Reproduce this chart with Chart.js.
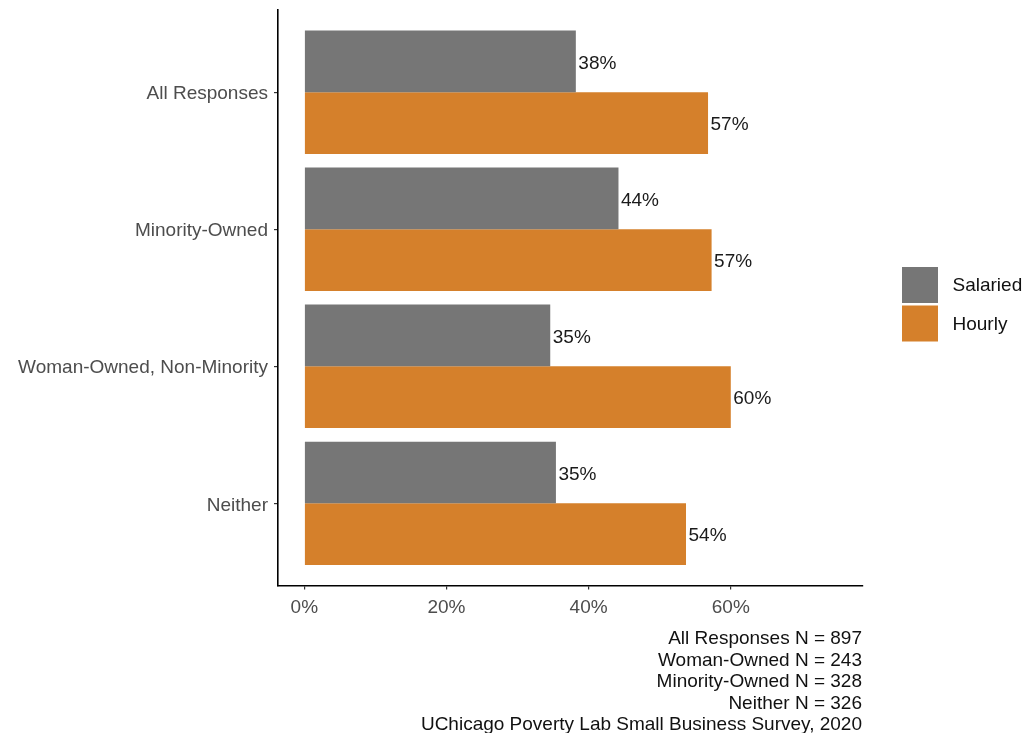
<!DOCTYPE html>
<html>
<head>
<meta charset="utf-8">
<title>Salaried vs Hourly by Business Ownership</title>
<script src="https://cdn.jsdelivr.net/npm/chart.js@4.4.1/dist/chart.umd.min.js"></script>
<style>
  html, body { margin: 0; padding: 0; background: #ffffff; }
  #wrap { width: 1026px; height: 733px; position: relative; }
</style>
</head>
<body>
<div id="wrap"><canvas id="chart" width="1026" height="733"></canvas></div>
<script>
// Ownership groups, top to bottom
const categories = ['All Responses', 'Minority-Owned', 'Woman-Owned, Non-Minority', 'Neither'];

// Share of businesses (%) by pay type
const seriesNames = ['Salaried', 'Hourly'];
const salaried = [38.2, 44.2, 34.6, 35.4];
const hourly = [56.8, 57.3, 60.0, 53.7];

// Percent axis ticks
const xTicks = [0, 20, 40, 60];

// Sample sizes and source note
const captionLines = [
  'All Responses N = 897',
  'Woman-Owned N = 243',
  'Minority-Owned N = 328',
  'Neither N = 326',
  'UChicago Poverty Lab Small Business Survey, 2020'
];

const FONT = '"Liberation Sans", Arial, Helvetica, sans-serif';
const COLORS = ['#767676', '#d5802b'];

function toPoints(values) {
  return values.map((v, i) => ({ x: v, y: i }));
}

// Percent labels just past the end of each bar
const valueLabels = {
  id: 'valueLabels',
  afterDatasetsDraw(chart) {
    const ctx = chart.ctx;
    ctx.save();
    ctx.font = '19px ' + FONT;
    ctx.fillStyle = '#1a1a1a';
    ctx.textAlign = 'left';
    ctx.textBaseline = 'middle';
    chart.data.datasets.forEach((ds, di) => {
      const meta = chart.getDatasetMeta(di);
      meta.data.forEach((bar, i) => {
        const v = ds.data[i].x;
        ctx.fillText(Math.round(v) + '%', bar.x + 2.5, bar.y + 2);
      });
    });
    ctx.restore();
  }
};

// Key on the right and caption under the plot
const sideKeyAndCaption = {
  id: 'sideKeyAndCaption',
  afterDraw(chart) {
    const ctx = chart.ctx;
    const area = chart.chartArea;
    ctx.save();
    // key
    const keyX = area.right + 39;
    const keyTop = 267;
    const keySize = 36;
    const keyStep = 38.5;
    ctx.font = '19px ' + FONT;
    ctx.textAlign = 'left';
    ctx.textBaseline = 'middle';
    chart.data.datasets.forEach((ds, i) => {
      const y = keyTop + i * keyStep;
      ctx.fillStyle = ds.backgroundColor;
      ctx.fillRect(keyX, y, keySize, keySize);
      ctx.fillStyle = '#111111';
      ctx.fillText(ds.label, keyX + keySize + 14.5, y + keySize / 2 + 1);
    });
    // caption
    ctx.textAlign = 'right';
    ctx.textBaseline = 'alphabetic';
    ctx.fillStyle = '#111111';
    captionLines.forEach((line, i) => {
      ctx.fillText(line, area.right - 1, 644 + i * 21.5);
    });
    ctx.restore();
  }
};

new Chart(document.getElementById('chart'), {
  type: 'bar',
  data: {
    datasets: [
      { label: seriesNames[0], data: toPoints(salaried), backgroundColor: COLORS[0] },
      { label: seriesNames[1], data: toPoints(hourly), backgroundColor: COLORS[1] }
    ]
  },
  options: {
    indexAxis: 'y',
    responsive: false,
    animation: false,
    devicePixelRatio: 1,
    layout: { padding: { top: 10, right: 163, bottom: 0, left: 0 } },
    datasets: {
      bar: { categoryPercentage: 0.9, barPercentage: 1.0, borderWidth: 0, borderSkipped: false }
    },
    plugins: {
      legend: { display: false },
      tooltip: { enabled: false },
      title: { display: false }
    },
    scales: {
      x: {
        type: 'linear',
        position: 'bottom',
        min: -3.7,
        max: 78.6,
        offset: false,
        afterBuildTicks(scale) { scale.ticks = xTicks.map(v => ({ value: v })); },
        afterFit(scale) { scale.height = 147.5; scale.paddingLeft = 0; scale.paddingRight = 0; },
        ticks: {
          callback: v => v + '%',
          color: '#4d4d4d',
          font: { family: FONT, size: 19 },
          padding: 7,
          maxRotation: 0
        },
        grid: { offset: false, drawOnChartArea: false, drawTicks: true, tickLength: 4, color: '#333333', lineWidth: 1.2 },
        border: { display: true, color: '#000000', width: 1.6 }
      },
      y: {
        type: 'linear',
        reverse: true,
        min: -0.6,
        max: 3.6,
        offset: false,
        afterBuildTicks(scale) { scale.ticks = categories.map((c, i) => ({ value: i })); },
        afterFit(scale) { scale.width = 278; scale.paddingTop = 0; scale.paddingBottom = 0; },
        ticks: {
          callback: v => categories[v],
          color: '#4d4d4d',
          font: { family: FONT, size: 19 },
          padding: 6,
          labelOffset: 2
        },
        grid: { offset: false, drawOnChartArea: false, drawTicks: true, tickLength: 4, color: '#333333', lineWidth: 1.2 },
        border: { display: true, color: '#000000', width: 1.6 }
      }
    }
  },
  plugins: [valueLabels, sideKeyAndCaption]
});
</script>
</body>
</html>
